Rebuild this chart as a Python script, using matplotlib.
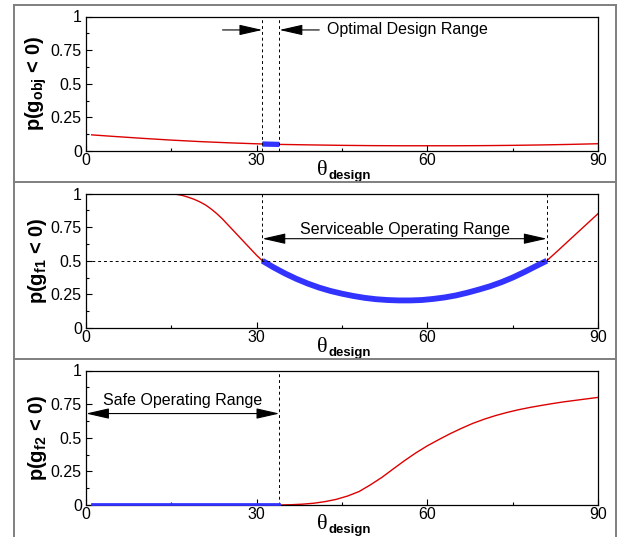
import matplotlib.pyplot as plt
from matplotlib.lines import Line2D
from matplotlib.ticker import MultipleLocator

plt.rcParams['font.family'] = ['Liberation Sans', 'DejaVu Sans']
plt.rcParams['mathtext.fontset'] = 'custom'
plt.rcParams['mathtext.rm'] = 'Liberation Sans'
plt.rcParams['mathtext.it'] = 'Liberation Sans:italic'
plt.rcParams['mathtext.bf'] = 'Liberation Sans:bold'

# --- data ---
# panel 1: p(g_obj < 0)
obj_theta = [1, 5, 10, 15, 20, 25, 31, 34, 40, 45, 50, 55, 60, 65, 70, 75, 80, 85, 90]
obj_p = [0.12, 0.108, 0.094, 0.081, 0.070, 0.061, 0.052, 0.049, 0.045, 0.042,
         0.040, 0.039, 0.039, 0.039, 0.040, 0.042, 0.045, 0.049, 0.054]
opt_theta = [31, 32, 33, 34]
opt_p = [0.052, 0.051, 0.050, 0.049]

# panel 2: p(g_f1 < 0)
f1_theta = [0, 5, 10, 14, 15, 16, 17, 18, 19, 20, 21, 22, 23, 24, 25, 26, 27, 28, 29, 30, 31,
            33, 35, 37, 39, 41, 43, 45, 47, 49, 51, 53, 55, 57, 59, 61, 63, 65, 67, 69, 71,
            73, 75, 77, 79, 81,
            83, 86, 88, 90]
f1_p = [1.0, 1.0, 1.0, 0.999, 0.997, 0.993, 0.985, 0.972, 0.957, 0.938, 0.915, 0.885, 0.85,
        0.81, 0.765, 0.72, 0.675, 0.63, 0.585, 0.54, 0.50,
        0.45, 0.405, 0.365, 0.33, 0.30, 0.275, 0.255, 0.238, 0.224, 0.214, 0.208, 0.205,
        0.205, 0.208, 0.216, 0.227, 0.242, 0.262, 0.285, 0.31, 0.34, 0.375, 0.415, 0.458,
        0.50,
        0.577, 0.694, 0.772, 0.85]
serv_theta = [31, 33, 35, 37, 39, 41, 43, 45, 47, 49, 51, 53, 55, 57, 59, 61, 63, 65, 67,
              69, 71, 73, 75, 77, 79, 81]
serv_p = [0.50, 0.45, 0.405, 0.365, 0.33, 0.30, 0.275, 0.255, 0.238, 0.224, 0.214, 0.208,
          0.205, 0.205, 0.208, 0.216, 0.227, 0.242, 0.262, 0.285, 0.31, 0.34, 0.375, 0.415,
          0.458, 0.50]

# panel 3: p(g_f2 < 0)
f2_theta = [34, 36, 38, 40, 42, 44, 46, 48, 50, 52, 54, 56, 58, 60, 62, 64, 66, 68, 70,
            72, 74, 76, 78, 80, 82, 84, 86, 88, 90]
f2_p = [0.0, 0.002, 0.006, 0.013, 0.025, 0.042, 0.067, 0.10, 0.15, 0.205, 0.268, 0.330,
        0.388, 0.44, 0.486, 0.53, 0.57, 0.607, 0.638, 0.665, 0.688, 0.708, 0.725, 0.74,
        0.754, 0.767, 0.778, 0.789, 0.80]
safe_theta = [1, 34]
safe_p = [0.004, 0.004]

ylabels = ['p(g$_{\\mathbf{obj}}$ < 0)', 'p(g$_{\\mathbf{f1}}$ < 0)', 'p(g$_{\\mathbf{f2}}$ < 0)']
xticks = [0, 30, 60, 90]
yticks = [0, 0.25, 0.5, 0.75, 1]
ytick_labels = ['0', '0.25', '0.5', '0.75', '1']

RED = '#dd0000'
BLUE = '#3333ff'

fig = plt.figure(figsize=(6.21, 5.37), dpi=100)
left, width, height = 86 / 621, 512 / 621, 134.5 / 537
bottoms = [(537 - 151) / 537, (537 - 328) / 537, (537 - 505) / 537]
axes = [fig.add_axes([left, b, width, height]) for b in bottoms]

for ax, lab in zip(axes, ylabels):
    ax.set_xlim(0, 90)
    ax.set_ylim(0, 1)
    ax.set_xticks(xticks)
    ax.set_xticklabels([str(t) for t in xticks])
    ax.set_yticks(yticks)
    ax.set_yticklabels(ytick_labels)
    ax.xaxis.set_minor_locator(MultipleLocator(15))
    ax.yaxis.set_minor_locator(MultipleLocator(0.125))
    ax.tick_params(which='both', direction='in', top=False, right=False, width=0.8)
    ax.tick_params(which='major', length=4, labelsize=11.5)
    ax.tick_params(which='minor', length=2.5)
    ax.tick_params(axis='x', pad=1.5)
    ax.tick_params(axis='y', pad=3)
    for s in ax.spines.values():
        s.set_linewidth(0.9)
    ax.set_ylabel(lab, fontsize=14.5, fontweight='bold')
    ax.yaxis.set_label_coords(-0.072, 0.5)
    # x label: serif theta with a bold "design" subscript
    ax.text(0.451, -0.178, '\u03b8', family='Liberation Serif', fontsize=16,
            ha='left', va='baseline', transform=ax.transAxes)
    ax.text(0.473, -0.207, 'design', fontsize=9.5, fontweight='bold',
            ha='left', va='baseline', transform=ax.transAxes)

arrow1 = dict(arrowstyle='-|>,head_length=1.1,head_width=0.25', color='black', lw=0.8,
              mutation_scale=13, shrinkA=0, shrinkB=0)
arrow2 = dict(arrowstyle='<|-|>,head_length=1.1,head_width=0.25', color='black', lw=0.8,
              mutation_scale=13, shrinkA=0, shrinkB=0)

# panel 1
ax = axes[0]
ax.plot(obj_theta, obj_p, color=RED, lw=1.0)
ax.plot(opt_theta, opt_p, color=BLUE, lw=3.8, solid_capstyle='butt')
for t in [31, 34]:
    ax.plot([t, t], [0, 1], color='black', lw=0.7, ls=(0, (3, 3)))
ax.annotate('', xy=(31, 0.9), xytext=(24, 0.9), arrowprops=arrow1)
ax.annotate('', xy=(34, 0.9), xytext=(41, 0.9), arrowprops=arrow1)
ax.text(42.4, 0.9, 'Optimal Design Range', fontsize=11.5, va='center', ha='left')

# panel 2
ax = axes[1]
ax.plot(f1_theta, f1_p, color=RED, lw=1.0)
ax.plot(serv_theta, serv_p, color=BLUE, lw=4.2, solid_capstyle='butt')
ax.plot([0, 90], [0.5, 0.5], color='black', lw=0.7, ls=(0, (3, 3)))
for t in [31, 81]:
    ax.plot([t, t], [0.5, 1], color='black', lw=0.7, ls=(0, (3, 3)))
ax.annotate('', xy=(81, 0.664), xytext=(31, 0.664), arrowprops=arrow2)
ax.text(56, 0.735, 'Serviceable Operating Range', fontsize=11.5, va='center', ha='center')

# panel 3
ax = axes[2]
ax.plot(f2_theta, f2_p, color=RED, lw=1.0)
ax.plot(safe_theta, safe_p, color=BLUE, lw=2.0, clip_on=False, zorder=5)
ax.plot([34, 34], [0, 1], color='black', lw=0.7, ls=(0, (3, 3)))
ax.annotate('', xy=(34, 0.68), xytext=(0, 0.68), arrowprops=arrow2)
ax.text(17, 0.78, 'Safe Operating Range', fontsize=11.5, va='center', ha='center')

# frame lines around / between the panels
gray = '#7f7f7f'
xl, xr, yt = 14 / 621, 616 / 621, (537 - 5) / 537
for y in [yt, (537 - 182.5) / 537, (537 - 359) / 537]:
    fig.add_artist(Line2D([xl, xr], [y, y], transform=fig.transFigure, color=gray, lw=1.4))
for x in [xl, xr]:
    fig.add_artist(Line2D([x, x], [0, yt], transform=fig.transFigure, color=gray, lw=1.4))

fig.savefig('out.png', dpi=100)
